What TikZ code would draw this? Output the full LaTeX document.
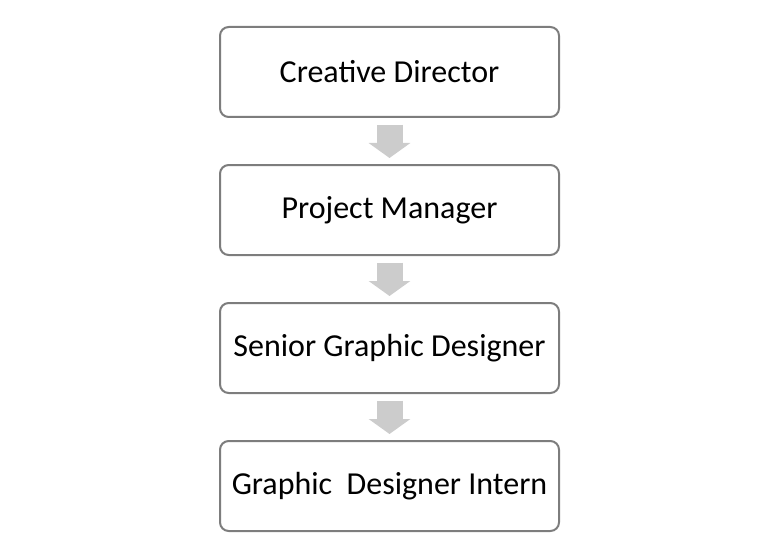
\documentclass[tikz,border=0pt]{standalone}
\usepackage{fontspec}
\setmainfont{Carlito}
\usetikzlibrary{arrows.meta}
\begin{document}
\begin{tikzpicture}[x=0.75pt,y=-0.75pt]
        % Define colors
        \definecolor{boxline}{RGB}{125,125,125} % grey border
        \definecolor{arrowfill}{RGB}{204,204,204} % light grey arrows

        % Styles
        \tikzset{
            rolebox/.style={draw=boxline, line width=1.5pt, fill=white,
                rounded corners=6.5pt, minimum width=254.25pt, minimum height=67.5pt,
                inner sep=0pt, font=\fontsize{24pt}{28pt}\selectfont},
            downarrow/.style={draw=arrowfill, line width=19.5pt,
                -{Triangle[length=11.25pt,width=30.75pt,fill=arrowfill]},
                shorten <=5pt, shorten >=4.5pt}
        }

        % Page frame
        \useasboundingbox (0,0) rectangle (763,549);

        % Draw role boxes
        \node[rolebox] (director) at (389.5,72)  {Creative Director};
        \node[rolebox] (manager)  at (389.5,210) {Project Manager};
        \node[rolebox] (senior)   at (389.5,348) {Senior Graphic Designer};
        \node[rolebox] (intern)   at (389.5,486) {Graphic~~Designer Intern};

        % Draw arrows between boxes
        \draw[downarrow] (director.south) -- (manager.north);
        \draw[downarrow] (manager.south) -- (senior.north);
        \draw[downarrow] (senior.south) -- (intern.north);
    \end{tikzpicture}
\end{document}
